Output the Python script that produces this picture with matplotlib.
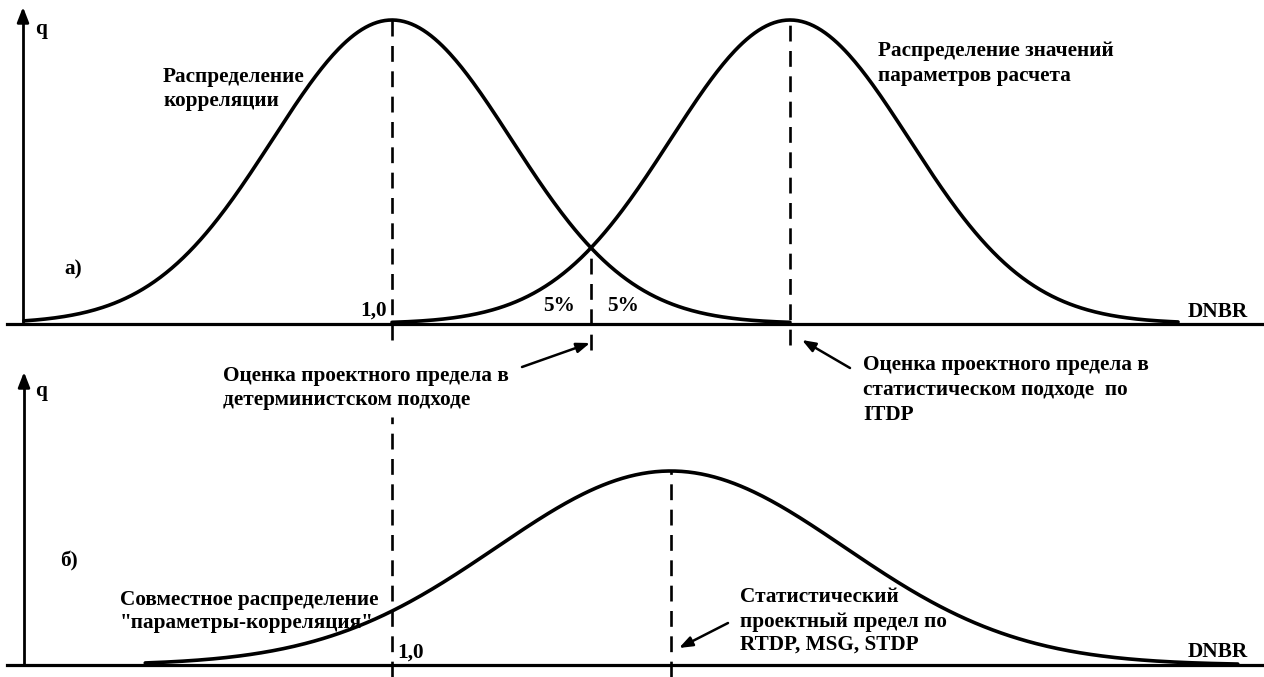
import numpy as np
import matplotlib
matplotlib.use("Agg")
import matplotlib.pyplot as plt
import matplotlib.transforms as mtransforms

# ---- distributions (DNBR axis) ----
corr_mean, corr_sigma = 1.00, 0.12          # correlation distribution
param_mean, param_sigma = 1.40, 0.12        # calculation-parameter distribution
joint_mean, joint_sigma = 1.28, 0.175       # joint "parameters-correlation" distribution
corr_range = [0.63, 1.40]
param_range = [1.00, 1.79]
joint_range = [0.752, 1.85]
tail_label = "5%"
ref_label = "1,0"

W, H = 1264, 677
fig = plt.figure(figsize=(W / 100, H / 100), dpi=100)

# pixel layout helpers (origin top-left)
X0_PX, PX_PER_UNIT = 392, 995.0
def xd(px):
    return 1 + (px - X0_PX) / PX_PER_UNIT

pix = mtransforms.Affine2D().scale(1 / W, -1 / H).translate(0, 1) + fig.transFigure

def make_panel(base_px, peak_px):
    ax = fig.add_axes([0, 0, 1, 1])
    ax.patch.set_alpha(0)
    ax.set_axis_off()
    ax.set_xlim(xd(0), xd(W))
    scale = base_px - peak_px
    ax.set_ylim((base_px - H) / scale, base_px / scale)
    return ax, (lambda py: (base_px - py) / scale)

def bell(x, m, s):
    return np.exp(-0.5 * ((x - m) / s) ** 2)

CURVE_LW = 2.6
DASH = dict(color="black", lw=1.9, linestyles=(0, (6.0, 3.6)))
font = dict(family="Liberation Serif", weight="bold", size=15.3, color="black")

# ---------------- panel a ----------------
ax_a, qa = make_panel(323.5, 20)
xa = np.linspace(*corr_range, 400)
ax_a.plot(xa, bell(xa, corr_mean, corr_sigma), color="black", lw=CURVE_LW,
          solid_capstyle="round")
xb = np.linspace(*param_range, 400)
ax_a.plot(xb, bell(xb, param_mean, param_sigma), color="black", lw=CURVE_LW,
          solid_capstyle="round")
cross = (corr_mean + param_mean) / 2
ax_a.vlines([corr_mean], qa(340), 1, **DASH)
ax_a.vlines([param_mean], qa(345), 1, **DASH)
ax_a.vlines([cross], qa(350), bell(cross, corr_mean, corr_sigma), **DASH)

# ---------------- panel b ----------------
ax_b, qb = make_panel(665, 471)
xj = np.linspace(*joint_range, 500)
ax_b.plot(xj, bell(xj, joint_mean, joint_sigma), color="black", lw=CURVE_LW,
          solid_capstyle="round")
ax_b.vlines([corr_mean], qb(H), qb(417), **DASH)
ax_b.vlines([joint_mean], qb(H), 1, **DASH)

# ---------------- axes lines with arrows ----------------
def hline(py):
    fig.add_artist(plt.Line2D([7, W], [py, py], transform=pix, color="black", lw=2.3))

def varrow(px, py0, py1):
    fig.add_artist(plt.Line2D([px, px], [py0, py1 + 8], transform=pix,
                              color="black", lw=2.0))
    ax_a.annotate("", xy=(px, py1), xytext=(px, py1 + 14), xycoords=pix,
                  textcoords=pix,
                  arrowprops=dict(arrowstyle="-|>,head_length=0.9,head_width=0.35",
                                  color="black", lw=2.0, shrinkA=0, shrinkB=0))

hline(323.5)
hline(665)
varrow(23, 323.5, 7)
varrow(24, 665, 372)

# ---------------- text ----------------
def txt(px, py, s, **kw):
    fig.text(px, py, s, transform=pix, va="baseline", ha="left", **font, **kw)

txt(35, 34, "q")
txt(163, 82, "Распределение")
txt(163, 106, "корреляции")
txt(64, 274, "а)")
txt(360, 316, ref_label)
txt(543, 311, tail_label)
txt(607, 311, tail_label)
txt(1188, 317, "DNBR")
txt(878, 56, "Распределение значений")
txt(878, 81, "параметров расчета")
txt(223, 381, "Оценка проектного предела в")
txt(223, 405, "детерминистском подходе")
txt(863, 370, "Оценка проектного предела в")
txt(863, 395, "статистическом подходе  по")
txt(863, 420, "ITDP")

txt(35, 396, "q")
txt(60, 566, "б)")
txt(120, 605, "Совместное распределение")
txt(120, 628, "\"параметры-корреляция\"")
txt(397, 658, ref_label)
txt(740, 602, "Статистический")
txt(740, 627, "проектный предел по")
txt(740, 650, "RTDP, MSG, STDP")
txt(1188, 657, "DNBR")

# ---------------- pointer arrows ----------------
def pointer(x0, y0, x1, y1):
    ax_a.annotate("", xy=(x1, y1), xytext=(x0, y0), xycoords=pix, textcoords=pix,
                  arrowprops=dict(arrowstyle="-|>,head_length=0.8,head_width=0.3",
                                  color="black", lw=1.8, shrinkA=0, shrinkB=0))

pointer(522, 367, 590, 343)
pointer(850, 368, 802, 340)
pointer(728, 623, 679, 648)

fig.savefig("out.png", dpi=100, facecolor="white")
